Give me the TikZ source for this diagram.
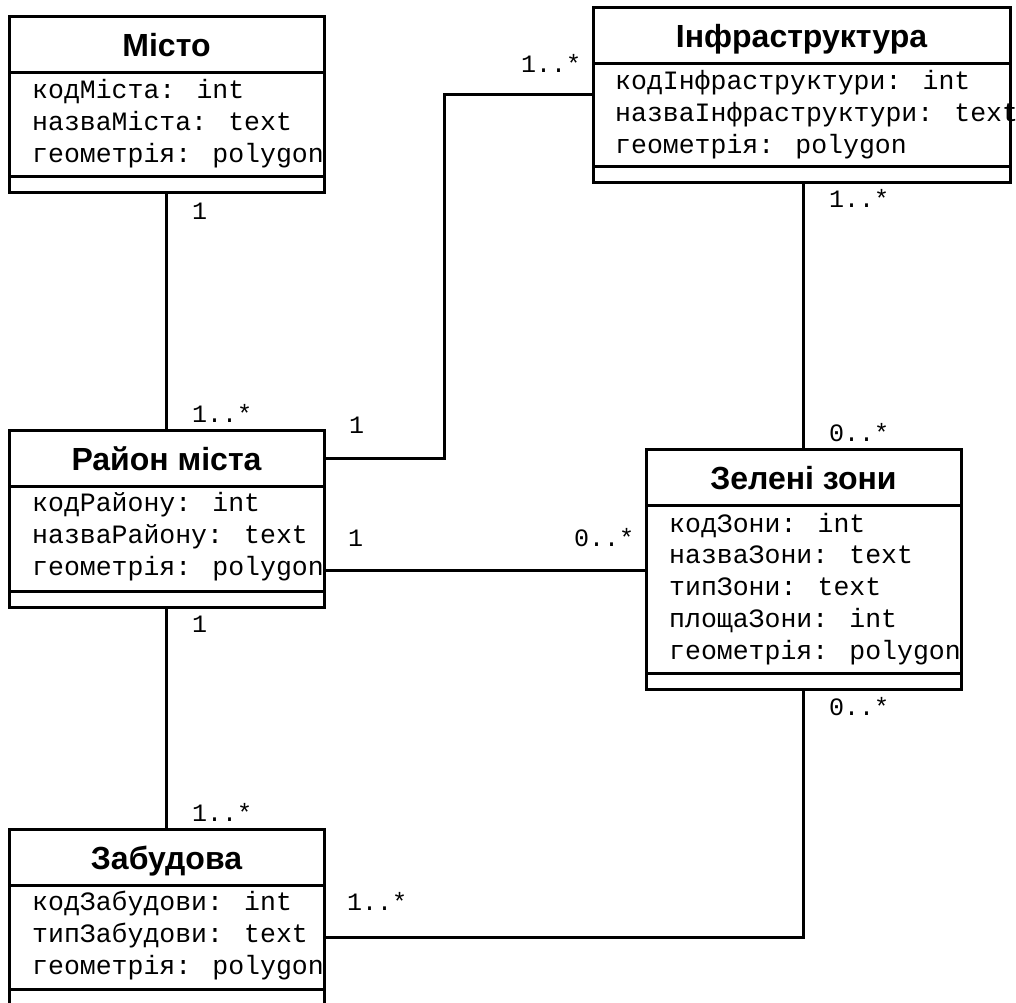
\documentclass[tikz,border=0pt]{standalone}
\usepackage{fontspec}
\setmainfont{Liberation Sans}
\newfontfamily\monofont{Liberation Mono}
\usetikzlibrary{positioning}

\tikzset{
  box/.style={draw, line width=3pt, inner sep=0pt, outer sep=0pt, minimum width=315pt},
  head/.style={box, minimum height=56pt, text height=25pt, text depth=0pt,
    font=\fontsize{32}{38}\selectfont\bfseries},
  foot/.style={box, minimum height=16pt},
  attr/.style={anchor=base west, align=left, inner sep=0pt,
    font=\monofont\fontsize{26.5}{31.7}\selectfont},
  mult/.style={anchor=base west, inner sep=0pt, font=\monofont\fontsize{25}{30}\selectfont},
  link/.style={line width=3pt},
}

\begin{document}
\begin{tikzpicture}[x=1pt, y=-1pt]
    \useasboundingbox (0,0) rectangle (1016,1002);

    % Місто
    \node[head, anchor=north west] (misto) at (9,16) {Місто};
    \node[box, below=0pt of misto, minimum height=104pt] (misto-a) {};
    \node[foot, below=0pt of misto-a] (misto-f) {};
    \node[attr] (misto-t) at (32,162) {кодМіста: int\\назваМіста: text\\геометрія: polygon};

    % Інфраструктура
    \node[head, minimum width=417pt, anchor=north west] (infra) at (593,7) {Інфраструктура};
    \node[box, minimum width=417pt, below=0pt of infra, minimum height=103pt] (infra-a) {};
    \node[foot, minimum width=417pt, below=0pt of infra-a] (infra-f) {};
    \node[attr] (infra-t) at (615,153) {кодІнфраструктури: int\\назваІнфраструктури: text\\геометрія: polygon};

    % Район міста
    \node[head, anchor=north west] (rayon) at (9,430) {Район міста};
    \node[box, below=0pt of rayon, minimum height=105pt] (rayon-a) {};
    \node[foot, below=0pt of rayon-a] (rayon-f) {};
    \node[attr] (rayon-t) at (32,575) {кодРайону: int\\назваРайону: text\\геометрія: polygon};

    % Зелені зони
    \node[head, anchor=north west] (zeleni) at (646,449) {Зелені зони};
    \node[box, below=0pt of zeleni, minimum height=168pt] (zeleni-a) {};
    \node[foot, below=0pt of zeleni-a] (zeleni-f) {};
    \node[attr] (zeleni-t) at (669,659) {кодЗони: int\\назваЗони: text\\типЗони: text\\площаЗони: int\\геометрія: polygon};

    % Забудова
    \node[head, anchor=north west] (zabud) at (9,829) {Забудова};
    \node[box, below=0pt of zabud, minimum height=104pt] (zabud-a) {};
    \node[foot, below=0pt of zabud-a] (zabud-f) {};
    \node[attr] (zabud-t) at (32,974) {кодЗабудови: int\\типЗабудови: text\\геометрія: polygon};

    % зв'язки
    \coordinate (k1) at (444,94);
    \coordinate (k2) at (0,570);
    \draw[link] (misto-f.south) -- (rayon.north);
    \draw[link] (rayon.east) -| (k1) -- (k1 -| infra-a.west);
    \draw[link] (infra-f.south -| zeleni.north) -- (zeleni.north);
    \draw[link] (rayon-a.east |- k2) -- (zeleni-a.west |- k2);
    \draw[link] (rayon-f.south) -- (zabud.north);
    \draw[link] (zabud-a.east) -| (zeleni-f.south);

    % кратності
    \node[mult] (m1) at (192,219) {1};
    \node[mult] (m2) at (192,422) {1..*};
    \node[mult] (m3) at (349,433) {1};
    \node[mult] (m4) at (521,72) {1..*};
    \node[mult] (m5) at (829,207) {1..*};
    \node[mult] (m6) at (829,441) {0..*};
    \node[mult] (m7) at (348,546) {1};
    \node[mult] (m8) at (574,546) {0..*};
    \node[mult] (m9) at (192,632) {1};
    \node[mult] (m10) at (192,821) {1..*};
    \node[mult] (m11) at (347,910) {1..*};
    \node[mult] (m12) at (829,715) {0..*};
\end{tikzpicture}
\end{document}
